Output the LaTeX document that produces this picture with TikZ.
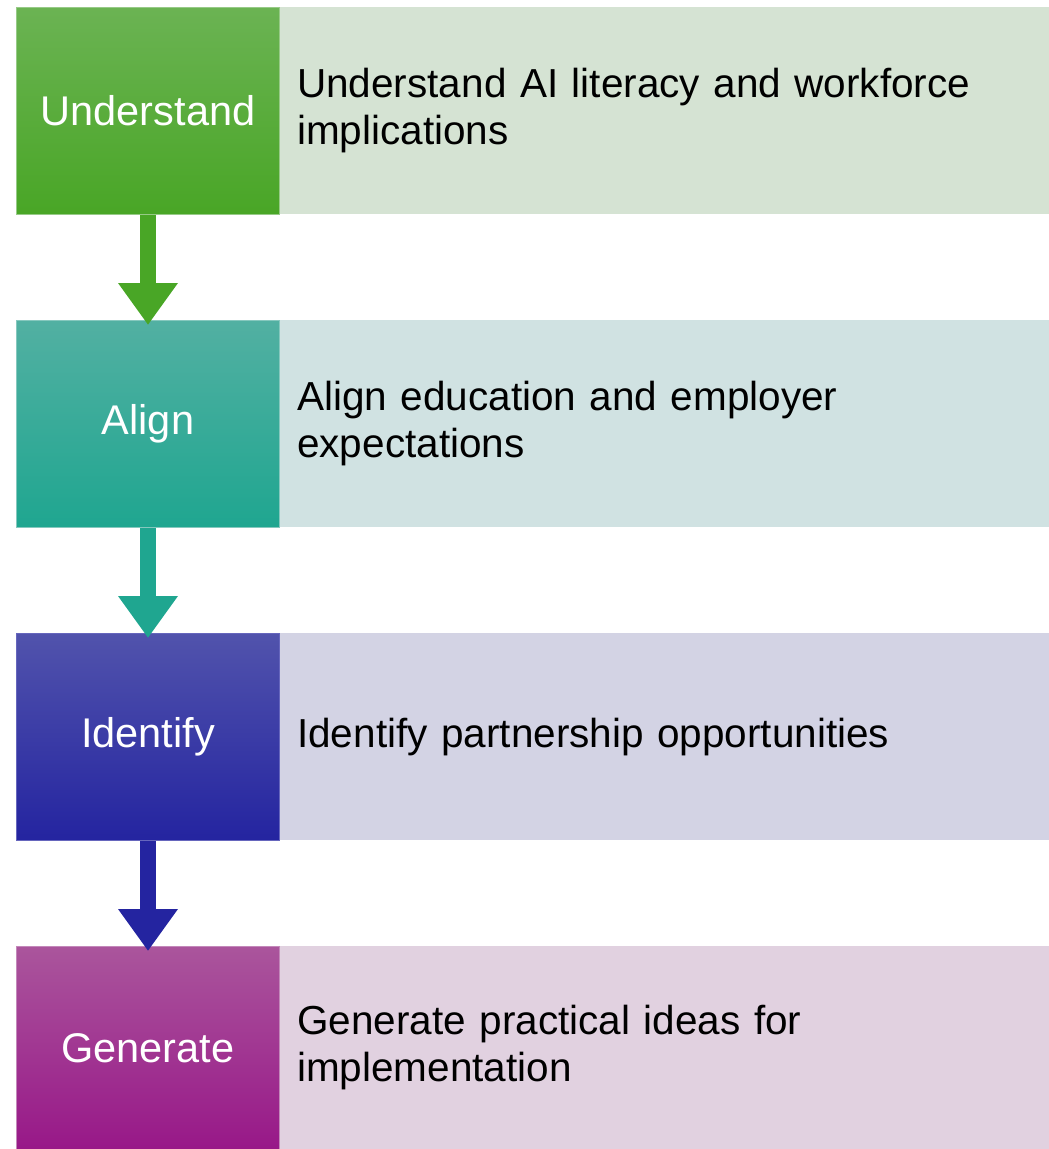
\documentclass[tikz,border=0pt]{standalone}
\usepackage{fontspec}
\setmainfont{Liberation Sans}
\usetikzlibrary{arrows.meta}
\definecolor{gTop}{HTML}{6BB353}\definecolor{gBot}{HTML}{49A626}\definecolor{gLt}{HTML}{D5E3D3}
\definecolor{tTop}{HTML}{52B0A2}\definecolor{tBot}{HTML}{1FA690}\definecolor{tLt}{HTML}{D0E2E2}
\definecolor{bTop}{HTML}{5153AC}\definecolor{bBot}{HTML}{2424A0}\definecolor{bLt}{HTML}{D3D3E4}
\definecolor{pTop}{HTML}{AA559C}\definecolor{pBot}{HTML}{981888}\definecolor{pLt}{HTML}{E1D1E0}
\tikzset{
  stepbox/.style={anchor=north west, minimum width=263pt, minimum height=207pt, inner sep=0pt,
    text=white, font=\fontsize{41.5}{46}\selectfont, draw=#1!70!white, line width=1pt},
  descbox/.style={anchor=north west, minimum height=207pt, text width=734pt, inner xsep=18pt, inner ysep=0pt,
    align=left, fill=#1, font=\fontsize{40.5}{47}\selectfont, text=black},
  flowarrow/.style={draw=#1, line width=16pt, -{Triangle[width=57pt,length=42pt]}, shorten >=-5pt}
}
\begin{document}
\begin{tikzpicture}[x=1pt,y=1pt]
\useasboundingbox (0,0) rectangle (1049,-1149);
\node[descbox=gLt] (d1) at (279,-7) {Understand AI literacy and workforce\\implications};
\node[descbox=tLt] (d2) at (279,-320) {Align education and employer\\expectations};
\node[descbox=bLt] (d3) at (279,-633) {Identify partnership opportunities};
\node[descbox=pLt, minimum height=203pt] (d4) at (279,-946) {Generate practical ideas for\\implementation};
\node[stepbox=gTop, top color=gTop, bottom color=gBot] (s1) at (16,-7) {Understand};
\node[stepbox=tTop, top color=tTop, bottom color=tBot] (s2) at (16,-320) {Align};
\node[stepbox=bBot, top color=bTop, bottom color=bBot] (s3) at (16,-633) {Identify};
\node[stepbox=pTop, top color=pTop, bottom color=pBot, minimum height=203pt] (s4) at (16,-946) {Generate};
\draw[flowarrow=gBot] (s1.south) -- (s2.north);
\draw[flowarrow=tBot] (s2.south) -- (s3.north);
\draw[flowarrow=bBot] (s3.south) -- (s4.north);
\end{tikzpicture}
\end{document}
